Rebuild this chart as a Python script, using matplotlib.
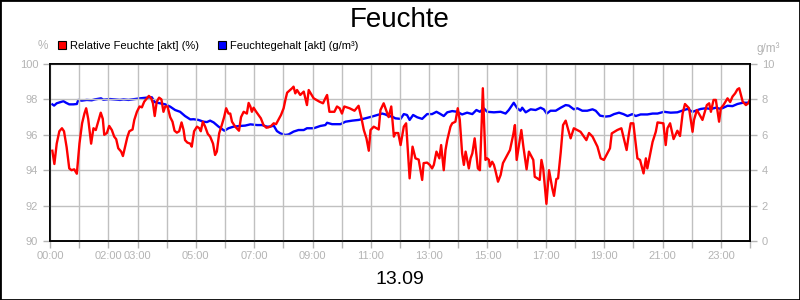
import matplotlib
matplotlib.use("Agg")
import matplotlib.pyplot as plt
from matplotlib.patches import Rectangle

# ----------------------------
# Data
# ----------------------------

# relative humidity [%] - hours of day / value
rh_hours = [0.08, 0.15, 0.23, 0.32, 0.41, 0.48, 0.57, 0.66, 0.74, 0.83, 0.92, 1.01, 1.10, 1.18, 1.24,
            1.31, 1.41, 1.49, 1.57, 1.66, 1.74, 1.81, 1.86, 1.95, 2.03, 2.12, 2.20, 2.27, 2.34, 2.44,
            2.50, 2.57, 2.65, 2.72, 2.83, 2.89, 2.98, 3.07, 3.15, 3.23, 3.32, 3.39, 3.47, 3.53, 3.59,
            3.66, 3.74, 3.82, 3.89, 3.95, 4.03, 4.12, 4.20, 4.27, 4.35, 4.43, 4.51, 4.58, 4.63, 4.71,
            4.81, 4.86, 4.94, 5.04, 5.12, 5.17, 5.24, 5.32, 5.41, 5.49, 5.59, 5.66, 5.72, 5.80, 5.89,
            5.97, 6.04, 6.12, 6.18, 6.24, 6.35, 6.48, 6.55, 6.64, 6.75, 6.81, 6.87, 6.92, 6.98, 7.07,
            7.15, 7.23, 7.32, 7.42, 7.49, 7.58, 7.67, 7.75, 7.84, 7.92, 8.01, 8.07, 8.13, 8.21, 8.30,
            8.35, 8.41, 8.47, 8.58, 8.70, 8.81, 8.87, 9.04, 9.24, 9.36, 9.44, 9.50, 9.58, 9.75, 9.84,
            9.93, 10.01, 10.09, 10.27, 10.44, 10.58, 10.68, 10.76, 10.85, 10.93, 10.99, 11.10, 11.27,
            11.33, 11.44, 11.61, 11.70, 11.79, 11.84, 11.94, 12.02, 12.13, 12.21, 12.27, 12.33, 12.43,
            12.53, 12.64, 12.76, 12.81, 12.93, 13.02, 13.10, 13.16, 13.25, 13.35, 13.41, 13.50, 13.56,
            13.62, 13.73, 13.79, 13.90, 13.98, 14.05, 14.13, 14.19, 14.25, 14.36, 14.42, 14.48, 14.56,
            14.67, 14.74, 14.80, 14.84, 14.93, 14.99, 15.05, 15.08, 15.16, 15.22, 15.28, 15.36, 15.45,
            15.53, 15.68, 15.77, 15.88, 15.94, 16.00, 16.08, 16.16, 16.23, 16.28, 16.34, 16.42, 16.57,
            16.62, 16.71, 16.79, 16.85, 16.91, 17.02, 17.11, 17.22, 17.28, 17.36, 17.42, 17.51, 17.59,
            17.68, 17.85, 17.96, 18.19, 18.39, 18.48, 18.60, 18.77, 18.88, 18.99, 19.11, 19.20, 19.26,
            19.45, 19.59, 19.77, 19.85, 19.91, 20.00, 20.14, 20.23, 20.35, 20.43, 20.48, 20.57, 20.66,
            20.77, 20.83, 21.03, 21.11, 21.17, 21.26, 21.38, 21.51, 21.60, 21.69, 21.77, 21.91, 22.03,
            22.08, 22.18, 22.37, 22.52, 22.60, 22.66, 22.75, 22.83, 22.94, 23.00, 23.09, 23.23, 23.32,
            23.40, 23.49, 23.57, 23.63, 23.75, 23.86, 23.94, 24.00]
rh_values = [95.1, 94.35, 95.5, 96.2, 96.37, 96.2, 95.3, 94.1, 94.0, 94.05, 93.8, 95.5, 96.65, 97.2, 97.5,
             96.9, 95.5, 96.37, 96.27, 96.8, 97.25, 96.9, 96.0, 96.1, 96.5, 96.27, 95.9, 95.75, 95.24, 95.05,
             94.8, 95.3, 95.86, 96.2, 96.3, 96.84, 97.3, 97.6, 97.55, 97.87, 98.06, 98.2, 98.06, 97.78, 97.06,
             97.87, 98.1, 98.0, 97.3, 97.6, 97.6, 97.0, 96.74, 96.23, 96.12, 96.2, 96.7, 96.27, 95.7, 95.56,
             95.5, 95.33, 96.2, 96.46, 96.37, 96.2, 96.74, 96.46, 96.05, 95.9, 95.5, 94.86, 95.05, 96.08, 96.55,
             97.0, 97.5, 97.2, 97.2, 96.74, 96.46, 96.23, 97.0, 97.3, 97.2, 97.8, 97.6, 97.3, 97.53, 97.3,
             97.12, 96.93, 96.55, 96.4, 96.42, 96.5, 96.65, 96.6, 96.87, 97.12, 97.5, 97.97, 98.38, 98.5, 98.63,
             98.72, 98.34, 98.53, 98.25, 98.44, 97.68, 98.53, 98.06, 97.87, 97.78, 98.06, 98.25, 97.3, 97.3, 97.6,
             97.5, 97.2, 97.6, 97.5, 97.36, 97.64, 96.93, 96.27, 95.8, 95.1, 96.27, 96.46, 96.3,
             97.4, 97.78, 97.0, 97.6, 95.9, 96.1, 96.1, 95.42, 96.46, 96.65, 95.14, 93.54, 95.33,
             94.67, 94.6, 93.45, 94.4, 94.43, 94.3, 94.1, 94.3, 95.05, 94.67, 95.42, 94.0, 95.14,
             95.7, 96.46, 96.65, 96.74, 97.5, 96.84, 94.95, 94.3, 95.05, 94.1, 94.67, 94.95, 95.8,
             94.1, 94.0, 96.65, 98.63, 94.58, 94.67, 94.58, 94.2, 94.48, 94.3, 93.92, 93.35, 93.73,
             94.4, 94.86, 95.14, 95.99, 96.55, 94.58, 95.42, 96.27, 95.33, 94.76, 94.05, 95.05, 94.58,
             93.63, 93.54, 93.45, 94.58, 94.1, 92.1, 94.0, 92.98, 92.55, 93.5, 93.54, 95.0, 96.55,
             96.8, 95.8, 96.37, 96.17, 95.7, 96.1, 95.9, 95.33, 94.67, 94.58, 94.95, 95.24, 96.08,
             96.27, 96.37, 95.14, 96.08, 96.65, 96.65, 94.67, 94.58, 93.82, 94.67, 94.1, 94.86, 95.6,
             96.17, 96.7, 96.65, 95.42, 96.37, 96.65, 95.76, 96.23, 95.93, 97.2, 97.74, 97.5, 96.17,
             96.84, 97.4, 96.84, 97.68, 97.78, 97.3, 97.97, 97.97, 96.74, 97.5, 97.68, 98.06, 97.85,
             98.16, 98.34, 98.57, 98.63, 97.87, 97.68, 97.78, 98.0]

# absolute humidity [g/m3]
ah_hours = [0.08, 0.14, 0.23, 0.34, 0.46, 0.55, 0.66, 0.80, 0.92, 0.97, 1.09, 1.26, 1.43, 1.54, 1.75,
            1.83, 2.06, 2.40, 2.52, 2.69, 2.92, 3.09, 3.32, 3.49, 3.60, 3.78, 3.95, 4.12, 4.29, 4.46,
            4.63, 4.81, 4.92, 5.09, 5.26, 5.38, 5.49, 5.61, 5.78, 5.98, 6.12, 6.29, 6.52, 6.69, 6.87,
            7.10, 7.27, 7.44, 7.55, 7.67, 7.78, 7.90, 8.07, 8.18, 8.35, 8.52, 8.70, 8.81, 9.04, 9.27,
            9.44, 9.50, 9.67, 9.96, 10.13, 10.36, 10.58, 10.81, 11.04, 11.22, 11.39, 11.50, 11.61, 11.73,
            11.84, 12.02, 12.13, 12.24, 12.33, 12.45, 12.59, 12.76, 12.93, 13.10, 13.25, 13.36, 13.50,
            13.62, 13.79, 13.96, 14.13, 14.30, 14.48, 14.62, 14.74, 14.87, 14.99, 15.22, 15.45, 15.62,
            15.73, 15.90, 16.02, 16.13, 16.19, 16.31, 16.48, 16.65, 16.82, 16.93, 17.03, 17.16, 17.34,
            17.51, 17.68, 17.79, 17.96, 18.08, 18.25, 18.42, 18.60, 18.71, 18.86, 19.05, 19.20, 19.34,
            19.51, 19.66, 19.80, 19.97, 20.08, 20.25, 20.48, 20.66, 20.83, 21.05, 21.28, 21.51, 21.74,
            21.86, 22.03, 22.20, 22.31, 22.48, 22.66, 22.83, 23.00, 23.23, 23.40, 23.57, 23.75, 23.92, 24.00]
ah_values = [7.72, 7.65, 7.78, 7.84, 7.9, 7.81, 7.72, 7.72, 7.74, 7.97, 7.93, 7.97, 7.95, 8.0, 8.06,
             7.98, 8.02, 7.97, 8.0, 7.97, 8.02, 8.06, 8.1, 8.12, 7.84, 7.78, 7.72, 7.59, 7.4, 7.3,
             7.06, 6.87, 6.88, 6.84, 6.74, 6.72, 6.8, 6.7, 6.46, 6.23, 6.37, 6.46, 6.5, 6.52, 6.59,
             6.55, 6.55, 6.46, 6.46, 6.52, 6.21, 6.08, 5.99, 6.02, 6.18, 6.27, 6.27, 6.37, 6.37, 6.5,
             6.55, 6.68, 6.6, 6.6, 6.74, 6.8, 6.84, 6.93, 7.03, 7.12, 7.2, 7.15, 7.06, 7.03,
             6.93, 6.9, 7.17, 7.12, 6.84, 7.12, 6.99, 6.9, 7.17, 7.17, 7.3, 7.2, 7.06,
             7.27, 7.34, 7.3, 7.15, 7.25, 7.17, 7.4, 7.3, 7.5, 7.3, 7.27, 7.3, 7.2,
             7.4, 7.81, 7.5, 7.36, 7.53, 7.27, 7.44, 7.4, 7.53, 7.44, 7.2, 7.36, 7.36,
             7.53, 7.68, 7.65, 7.44, 7.5, 7.36, 7.36, 7.44, 7.36, 7.08, 7.03, 7.06, 7.17,
             7.25, 7.17, 7.06, 7.17, 7.06, 7.15, 7.15, 7.2, 7.2, 7.3, 7.25, 7.27, 7.4,
             7.46, 7.3, 7.4, 7.46, 7.5, 7.46, 7.53, 7.46, 7.64, 7.62, 7.74, 7.81, 7.81, 7.87]

x_tick_hours = [0, 2, 3, 5, 7, 9, 11, 13, 15, 17, 19, 21, 23]
x_tick_labels = ["%02d:00" % h for h in x_tick_hours]

# ----------------------------
# Plot
# ----------------------------

grey = "#b4b4b4"
plt.rcParams["font.family"] = ["Liberation Sans", "DejaVu Sans"]

fig = plt.figure(figsize=(8, 3), dpi=100)
ax = fig.add_axes([50 / 800, 1 - 241 / 300, 700 / 800, 177 / 300])
ax2 = ax.twinx()

ax2.plot(ah_hours, ah_values, color="#0000ff", linewidth=1.7)
ax.plot(rh_hours, rh_values, color="#ff0000", linewidth=1.7)
ax.set_zorder(ax2.get_zorder() + 1)
ax.patch.set_visible(False)

ax.set_xlim(0, 24)
ax.set_ylim(90, 100)
ax2.set_ylim(0, 10)

ax.set_xticks(range(25))
ax.set_xticklabels([x_tick_labels[x_tick_hours.index(h)] if h in x_tick_hours else "" for h in range(25)])
ax.set_yticks(range(90, 101, 2))
ax2.set_yticks(range(0, 11, 2))

ax.grid(True, color="#c0c0c0", linewidth=1)
ax.set_axisbelow(True)
for a in (ax, ax2):
    a.tick_params(colors=grey, labelcolor=grey, labelsize=8, length=5, width=1)
    for s in a.spines.values():
        s.set_color("black")
        s.set_linewidth(1.2)
ax.tick_params(axis="x", pad=2)

# axis units
fig.text(43 / 800, 1 - 49 / 300, "%", color=grey, fontsize=8.5, ha="center", va="baseline")
fig.text(768 / 800, 1 - 52 / 300, "g/m³", color=grey, fontsize=8.5, ha="center", va="baseline")

# title and date
fig.text(0.5, 1 - 27 / 300, "Feuchte", fontsize=20, ha="center", va="baseline")
fig.text(0.5, 1 - 284 / 300, "13.09", fontsize=14, ha="center", va="baseline")

# legend (drawn by hand like the original)
fig.patches.append(Rectangle((58 / 800, 1 - 49 / 300), 8 / 800, 8 / 300, transform=fig.transFigure,
                             facecolor="#ff0000", edgecolor="black", linewidth=0.8))
fig.text(70 / 800, 1 - 49 / 300, "Relative Feuchte [akt] (%)", fontsize=8, va="baseline")
fig.patches.append(Rectangle((218 / 800, 1 - 49 / 300), 8 / 800, 8 / 300, transform=fig.transFigure,
                             facecolor="#0000ff", edgecolor="black", linewidth=0.8))
fig.text(230 / 800, 1 - 49 / 300, "Feuchtegehalt [akt] (g/m³)", fontsize=8, va="baseline")

# outer frame
fig.patches.append(Rectangle((0, 0), 1, 1, transform=fig.transFigure, fill=False,
                             edgecolor="black", linewidth=2))

fig.savefig("out.png", dpi=100)
